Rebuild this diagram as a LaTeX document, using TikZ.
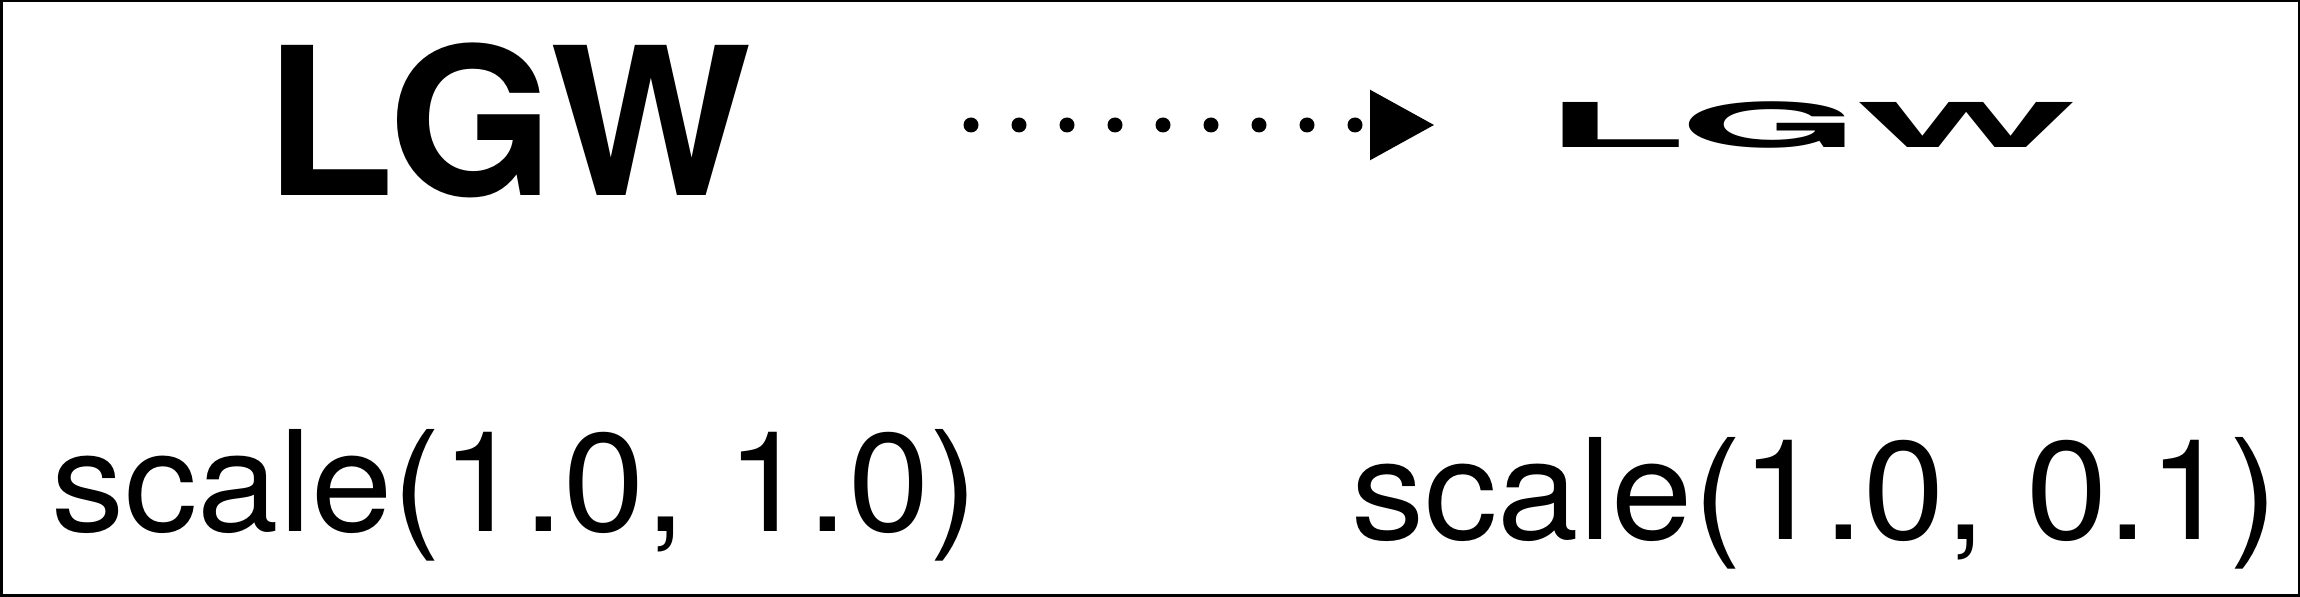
\documentclass[tikz,border=0pt]{standalone}
\usepackage{fontspec}
\setmainfont{TeX Gyre Heros}
\usetikzlibrary{arrows.meta}
\tikzset{
  frame/.style={draw=black, line width=2.5pt},
  bigword/.style={inner sep=0pt, anchor=base, font=\fontsize{206pt}{220pt}\selectfont\bfseries},
  caption/.style={inner sep=0pt, anchor=base, font=\fontsize{140pt}{150pt}\selectfont},
  dotline/.style={line width=15pt, line cap=round, dash pattern=on 0pt off 48pt,
    -{Triangle[length=65pt, width=66pt]}}
}
\begin{document}
\begin{tikzpicture}[x=1pt, y=1pt]
  \useasboundingbox (0,0) rectangle (2300,597);
  \draw[frame] (1.25,1.25) rectangle (2298.75,595.75);
  % words
  \node[bigword] (orig) at (508,401) {\scalebox{1.035}[1]{LGW}};
  \node[bigword] (scaled) at (1810,449) {\scalebox{1.13}[0.30]{LGW}};
  % captions
  \node[caption] (capA) at (515,65) {\scalebox{1.045}[1]{scale(1.0, 1.0)}};
  \node[caption] (capB) at (1815,57) {\scalebox{1.045}[1]{scale(1.0, 0.1)}};
  % dotted arrow
  \coordinate (arrS) at (971,472);
  \coordinate (arrE) at (1435,472);
  \draw[dotline] (arrS) -- (arrE);
\end{tikzpicture}
\end{document}
